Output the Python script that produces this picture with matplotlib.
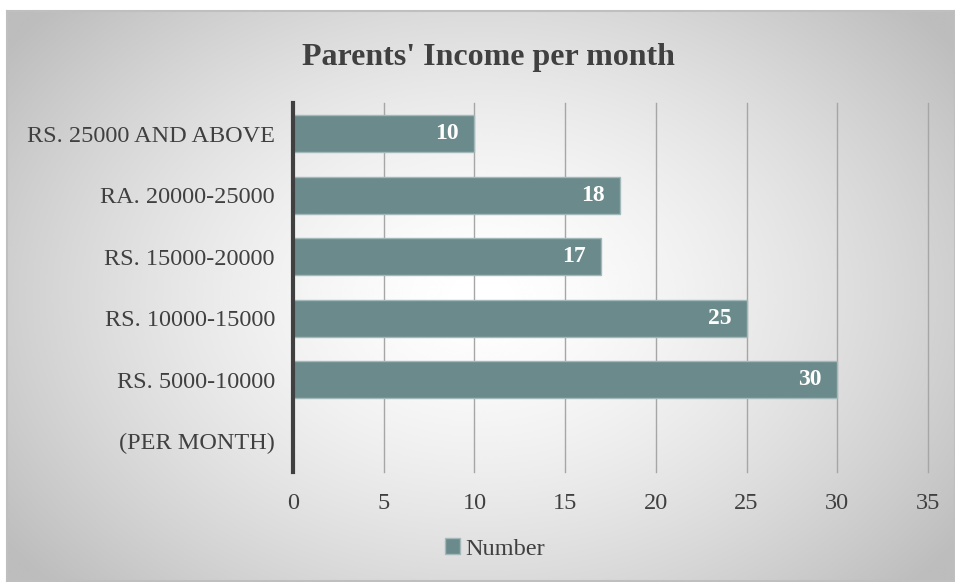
import numpy as np
import matplotlib.pyplot as plt

# data, bottom to top as drawn
categories = ['(PER MONTH)', 'RS. 5000-10000', 'RS. 10000-15000',
              'RS. 15000-20000', 'RA. 20000-25000', 'RS. 25000 AND ABOVE']
number = [np.nan, 30, 25, 17, 18, 10]
x_ticks = [0, 5, 10, 15, 20, 25, 30, 35]

plt.rcParams['font.family'] = ['Liberation Serif', 'DejaVu Serif']

fig = plt.figure(figsize=(9.55, 5.82), dpi=100)

# radial gradient background panel with thin border
bg = fig.add_axes([7 / 955, 1 / 582, 948 / 955, 570 / 582])
yy, xx = np.mgrid[0:1:300j, 0:1:500j]
r = np.sqrt(((xx - 0.5) / 0.62) ** 2 + ((yy - 0.5) / 0.75) ** 2)
shade = 1.0 - 0.26 * np.clip(r, 0, 1) ** 1.5
bg.imshow(shade, cmap='gray', vmin=0, vmax=1, aspect='auto',
          extent=[0, 1, 0, 1], interpolation='bicubic')
bg.set_xticks([])
bg.set_yticks([])
for s in bg.spines.values():
    s.set_color('#bfbfbf')
    s.set_linewidth(1.5)

ax = fig.add_axes([293 / 955, 110 / 582, 635 / 955, 369 / 582])
ax.patch.set_alpha(0)

y = np.arange(len(categories))
bars = ax.barh(y, number, height=0.6, color='#6b8a8b',
               edgecolor='#a3b8b8', linewidth=1, zorder=3)

for yi, v in zip(y, number):
    if not np.isnan(v):
        ax.annotate(f'{v:g}', (v, yi), xytext=(-11, 0),
                    textcoords='offset points', ha='right', va='center',
                    color='white', fontsize=17, fontweight='bold', zorder=4)

ax.set_xlim(0, 35)
ax.set_ylim(-0.5, len(categories) - 0.5)
ax.set_xticks(x_ticks)
ax.set_yticks(y)
ax.set_yticklabels(categories)
ax.tick_params(axis='both', length=0, labelsize=17.5, colors='#404040')
ax.tick_params(axis='x', pad=15)
ax.tick_params(axis='y', pad=13)
ax.grid(axis='x', color='#a6a6a6', linewidth=1, zorder=0)
for gl in ax.get_xgridlines():
    gl.set_clip_on(False)
for s in ['top', 'right', 'bottom']:
    ax.spines[s].set_visible(False)
ax.spines['left'].set_color('#404040')
ax.spines['left'].set_linewidth(3)
ax.spines['left'].set_zorder(5)

fig.text(488 / 955, 1 - 57 / 582, "Parents' Income per month",
         ha='center', va='center', fontsize=23, fontweight='bold',
         color='#404040')

leg = fig.legend([bars], ['Number'], loc='center',
                 bbox_to_anchor=(495 / 955, 1 - 549 / 582),
                 frameon=False, fontsize=17.5, handlelength=0.6,
                 handleheight=0.6, handletextpad=0.2)
for t in leg.get_texts():
    t.set_color('#404040')

fig.savefig('out.png', dpi=100)
